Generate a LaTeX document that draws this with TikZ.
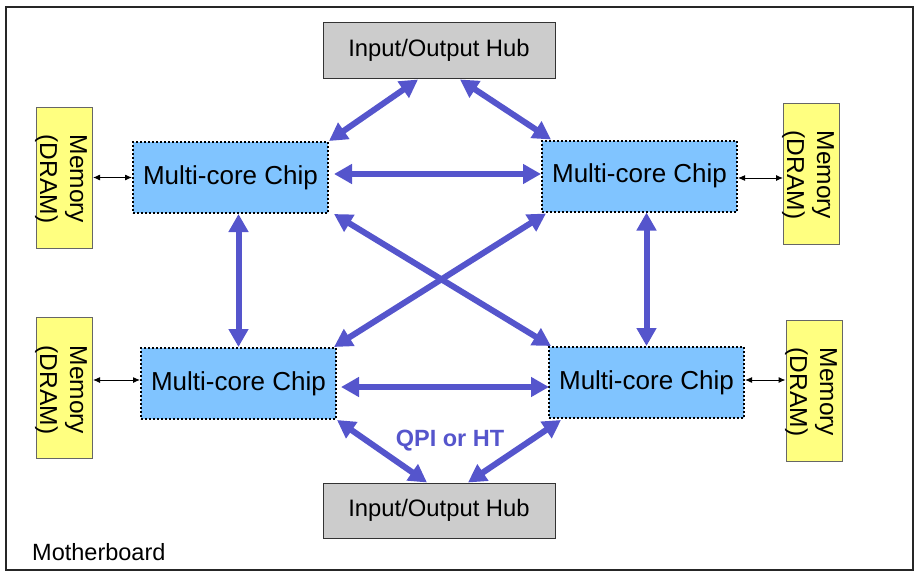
\documentclass[tikz,border=0pt]{standalone}
\usepackage{fontspec}
\setmainfont{Liberation Sans}
\usetikzlibrary{arrows.meta,calc}
\definecolor{chipblue}{RGB}{128,196,255}
\definecolor{memyellow}{RGB}{255,255,128}
\definecolor{hubgray}{RGB}{204,204,204}
\definecolor{qpiblue}{RGB}{85,85,204}
\begin{document}
\begin{tikzpicture}[x=1pt,y=-1pt,
  chip/.style={draw=black, line width=2pt, dotted, fill=chipblue, minimum width=195pt, minimum height=71pt, inner sep=0pt, font=\fontsize{26}{30}\selectfont},
  hub/.style={draw=black!80, line width=1pt, fill=hubgray, minimum width=232pt, minimum height=55pt, inner sep=0pt, font=\fontsize{23.8}{28}\selectfont},
  mem/.style={draw=black!60, line width=1pt, fill=memyellow, minimum width=56pt, minimum height=141pt, inner sep=0pt},
  memtext/.style={rotate=-90, align=center, inner sep=0pt, font=\fontsize{24.5}{30}\selectfont},
  qpi/.style={draw=qpiblue, line width=6pt, {Triangle[length=18pt,width=19pt]}-{Triangle[length=18pt,width=19pt]}},
  memarrow/.style={draw=black, line width=1pt, {Latex[length=7pt,width=6pt]}-{Latex[length=7pt,width=6pt]}}
]
\useasboundingbox (0,0) rectangle (918,578);
\draw[line width=1.5pt, draw=black!85] (6,7) rectangle (913,570);

\node[hub] (hubT) at (439,50.5) {Input/Output Hub};
\node[hub] (hubB) at (439,510.5) {Input/Output Hub};

\node[chip] (tl) at (230.5,177.5) {Multi-core Chip};
\node[chip] (tr) at (639.5,176) {Multi-core Chip};
\node[chip] (bl) at (238.5,383.5) {Multi-core Chip};
\node[chip] (br) at (646.5,382.5) {Multi-core Chip};

\node[mem] (mtl) at (64.5,177.5) {};
\node[mem] (mtr) at (811.5,173.5) {};
\node[mem] (mbl) at (64.5,388) {};
\node[mem] (mbr) at (814,391) {};
\node[memtext] (mtlt) at (61,179) {Memory\\(DRAM)};
\node[memtext] (mtrt) at (808,175) {Memory\\(DRAM)};
\node[memtext] (mblt) at (61,390) {Memory\\(DRAM)};
\node[memtext] (mbrt) at (811,392) {Memory\\(DRAM)};

% memory links
\coordinate (ctr) at ($(tr.east)+(0,2)$);
\coordinate (cbl) at ($(bl.west)+(0,-3.5)$);
\coordinate (cbr) at ($(br.east)+(0,-2.5)$);
\draw[memarrow] (tl.west) -- (tl.west -| mtl.east);
\draw[memarrow] (ctr) -- (ctr -| mtr.west);
\draw[memarrow] (cbl) -- (cbl -| mbl.east);
\draw[memarrow] (cbr) -- (cbr -| mbr.west);

% QPI / HT links
\draw[qpi] ($(hubT.south)+(-21,1)$) -- (tl.north east);
\draw[qpi] ($(hubT.south)+(21,1)$) -- ($(tr.north west)+(10,0)$);
\draw[qpi] ($(tl.east)+(5,-3.5)$) -- ($(tr.west)+(0,-2)$);
\draw[qpi] (bl.north |- tl.south) -- (bl.north);
\draw[qpi] (br.north |- tr.south) -- (br.north);
\draw[qpi] ($(tl.south east)+(5,0)$) -- ($(br.north west)+(3,0)$);
\draw[qpi] ($(tr.south west)+(5,1)$) -- ($(bl.north east)+(-3,0)$);
\draw[qpi] ($(bl.east)+(4,3.5)$) -- ($(br.west)+(1,4.5)$);
\draw[qpi] (bl.south east) -- ($(hubB.north)+(-12,0)$);
\draw[qpi] ($(br.south west)+(13,1)$) -- ($(hubB.north)+(29,0)$);

\node[text=qpiblue, font=\bfseries\fontsize{23.5}{28}\selectfont] (qpilabel) at (450,441) {QPI or HT};
\node[anchor=west, inner sep=0pt, font=\fontsize{23.5}{28}\selectfont] (mb) at (32,552) {Motherboard};
\end{tikzpicture}
\end{document}
